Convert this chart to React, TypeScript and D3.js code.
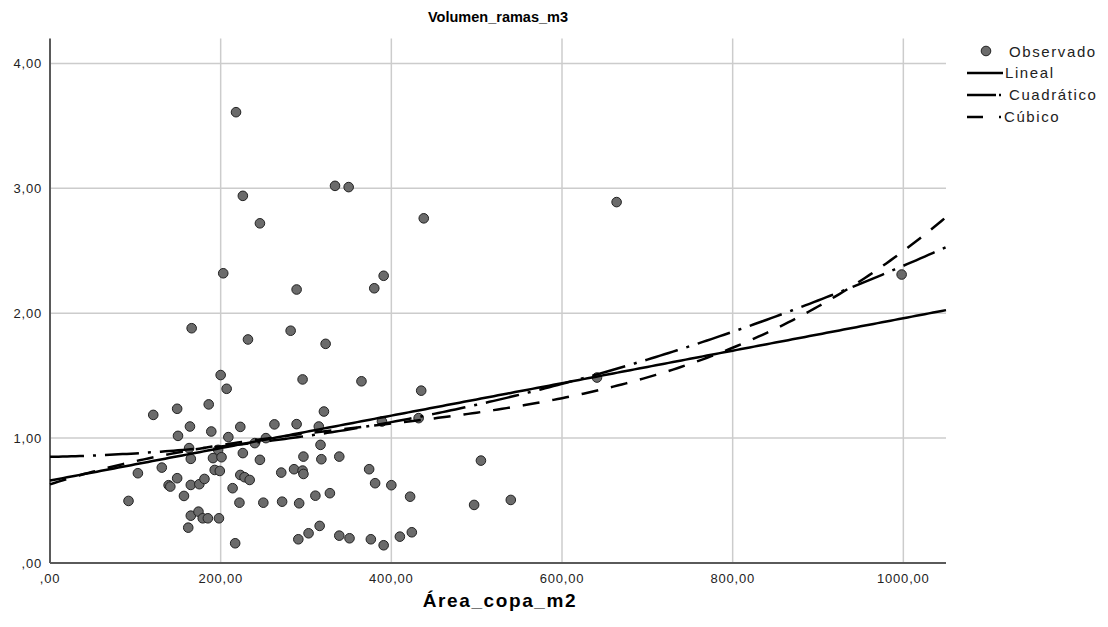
import React from "react";
import * as d3 from "d3";

// Observado: [Área_copa_m2, Volumen_ramas_m3]
const observado: [number, number][] = [
  [218, 3.61], [226, 2.94], [246, 2.72], [334, 3.02], [350, 3.01], [438, 2.76],
  [664, 2.89], [998, 2.31], [203, 2.32], [166, 1.88], [232, 1.79], [391, 2.3],
  [380, 2.2], [289, 2.19], [282, 1.86], [323, 1.755], [296, 1.47], [365, 1.455],
  [435, 1.38], [641, 1.485], [505, 0.82], [497, 0.465], [540, 0.505], [200, 1.505],
  [207, 1.395], [186, 1.27], [149, 1.235], [121, 1.186], [164, 1.093], [189, 1.053],
  [223, 1.09], [150, 1.018], [209, 1.008], [263, 1.11], [163, 0.92], [197, 0.906],
  [226, 0.88], [240, 0.96], [253, 1.0], [165, 0.834], [191, 0.84], [201, 0.847],
  [246, 0.826], [103, 0.719], [131, 0.764], [149, 0.679], [139, 0.623], [141, 0.612],
  [165, 0.625], [175, 0.631], [181, 0.673], [157, 0.537], [193, 0.745], [199, 0.737],
  [214, 0.599], [223, 0.705], [228, 0.687], [234, 0.665], [92, 0.497], [222, 0.483],
  [250, 0.483], [165, 0.379], [174, 0.411], [179, 0.358], [185, 0.358], [198, 0.358],
  [162, 0.283], [217, 0.158], [289, 1.112], [315, 1.093], [389, 1.133], [432, 1.16],
  [321, 1.213], [317, 0.946], [297, 0.852], [318, 0.831], [339, 0.852], [271, 0.724],
  [286, 0.751], [296, 0.74], [297, 0.713], [374, 0.751], [381, 0.639], [400, 0.623],
  [422, 0.531], [272, 0.491], [292, 0.478], [311, 0.539], [328, 0.559], [316, 0.297],
  [303, 0.238], [291, 0.19], [339, 0.219], [351, 0.198], [376, 0.19], [391, 0.142],
  [410, 0.211], [424, 0.246],
];

// fitted model coefficients (b0, b1, b2, b3)
const lineal = [0.66, 0.0013];
const cuadratico = [0.85, 0.000139, 1.391e-6];
const cubico = [0.63, 0.002202, -3.883e-6, 3.549e-9];

const xTicks = [0, 200, 400, 600, 800, 1000];
const xTickLabels = [",00", "200,00", "400,00", "600,00", "800,00", "1000,00"];
const yTicks = [0, 1, 2, 3, 4];
const yTickLabels = [",00", "1,00", "2,00", "3,00", "4,00"];

const W = 1108;
const H = 627;
const FONT = "'Liberation Sans', Arial, sans-serif";

export default function App() {
  const x = d3.scaleLinear().domain([0, 1050]).range([50, 946]);
  const y = d3.scaleLinear().domain([0, 4.2]).range([563, 38.5]);

  const evalPoly = (c: number[], v: number) =>
    c.reduce((s, b, i) => s + b * Math.pow(v, i), 0);
  const xs = d3.range(0, 1051, 5);

  const curvePath = (c: number[]) =>
    d3
      .line<number>()
      .x((v) => x(v))
      .y((v) => y(evalPoly(c, v)))(xs) || "";

  const fits = [
    { c: lineal, dash: undefined },
    { c: cuadratico, dash: "34,9,3,9" },
    { c: cubico, dash: "17,13" },
  ];

  const legendY = [52, 73, 95, 117];

  return (
    <svg
      width={W}
      height={H}
      style={{ position: "absolute", left: 0, top: 0, background: "#fff" }}
    >
      <rect width={W} height={H} fill="#fff" />
      {/* gridlines */}
      {xTicks.filter((t) => t > 0).map((t) => (
        <line key={"gx" + t} x1={x(t)} x2={x(t)} y1={y.range()[1]} y2={y(0)}
          stroke="#cccccc" strokeWidth={1.5} />
      ))}
      {yTicks.filter((t) => t > 0).map((t) => (
        <line key={"gy" + t} x1={x(0)} x2={946} y1={y(t)} y2={y(t)}
          stroke="#cccccc" strokeWidth={1.5} />
      ))}
      {/* axes */}
      <line x1={x(0)} x2={x(0)} y1={y.range()[1]} y2={y(0)} stroke="#5a5a5a" strokeWidth={2} />
      <line x1={x(0)} x2={946} y1={y(0)} y2={y(0)} stroke="#5a5a5a" strokeWidth={2} />

      {yTicks.map((t, i) => (
        <text key={"yt" + t} x={42} y={y(t)} dy="0.35em" textAnchor="end"
          fontFamily={FONT} fontSize={13} letterSpacing={0.8} fill="#222">
          {yTickLabels[i]}
        </text>
      ))}
      {xTicks.map((t, i) => (
        <text key={"xt" + t} x={x(t)} y={583} textAnchor="middle"
          fontFamily={FONT} fontSize={13} letterSpacing={0.8} fill="#222">
          {xTickLabels[i]}
        </text>
      ))}

      {/* points */}
      {observado.map(([a, b], i) => (
        <circle key={"p" + i} cx={x(a)} cy={y(b)} r={4.8}
          fill="#6b6b6b" stroke="#222" strokeWidth={1} />
      ))}

      {/* fitted lines */}
      {fits.map((f, i) => (
        <path key={"f" + i} d={curvePath(f.c)} fill="none" stroke="#000"
          strokeWidth={2.5} strokeDasharray={f.dash} />
      ))}

      {/* titles */}
      <text x={498} y={22} textAnchor="middle" fontFamily={FONT} fontSize={14.5}
        fontWeight="bold" fill="#000">Volumen_ramas_m3</text>
      <text x={500} y={607} textAnchor="middle" fontFamily={FONT} fontSize={19}
        fontWeight="bold" letterSpacing={1.6} fill="#000">Área_copa_m2</text>

      {/* legend */}
      <g fontFamily={FONT} fontSize={15} letterSpacing={1.6} fill="#222">
        <circle cx={986} cy={legendY[0] - 1} r={4.8} fill="#6b6b6b" stroke="#222" strokeWidth={1} />
        <text x={1009} y={legendY[0]} dy="0.35em">Observado</text>
        <line x1={967} x2={1003} y1={legendY[1]} y2={legendY[1]} stroke="#000" strokeWidth={2.5} />
        <text x={1005} y={legendY[1]} dy="0.35em">Lineal</text>
        <line x1={967} x2={1001} y1={legendY[2]} y2={legendY[2]} stroke="#000" strokeWidth={2.5}
          strokeDasharray="29,3,2,10" />
        <text x={1009} y={legendY[2]} dy="0.35em">Cuadrático</text>
        <line x1={967} x2={1001} y1={legendY[3]} y2={legendY[3]} stroke="#000" strokeWidth={2.5}
          strokeDasharray="16,16,2,10" />
        <text x={1004} y={legendY[3]} dy="0.35em">Cúbico</text>
      </g>
    </svg>
  );
}
